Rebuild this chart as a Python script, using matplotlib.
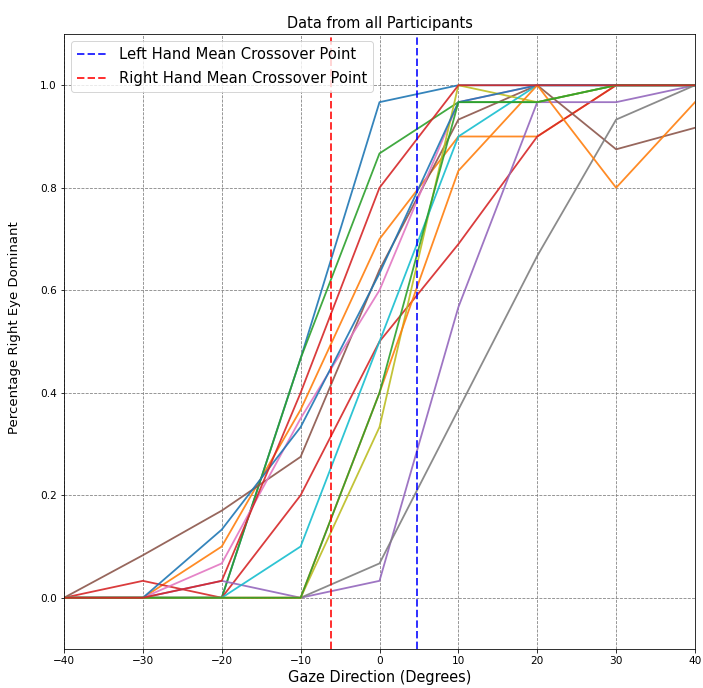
import matplotlib
matplotlib.use("Agg")
import matplotlib.pyplot as plt

gaze = [-40, -30, -20, -10, 0, 10, 20, 30, 40]

p01_blue = [0, 0, 0, 0.467, 0.967, 1.0, 1.0, 1.0, 1.0]
p02_orange = [0, 0, 0.1, 0.367, 0.7, 0.9, 0.9, 1.0, 1.0]
p03_green = [0, 0, 0, 0.467, 0.867, 0.967, 0.967, 1.0, 1.0]
p04_red = [0, 0.033, 0, 0.2, 0.5, 0.69, 0.9, 1.0, 1.0]
p05_purple = [0, 0, 0.033, 0, 0.033, 0.567, 0.967, 0.967, 1.0]
p06_brown = [0, 0.083, 0.17, 0.275, 0.64, 0.933, 1.0, 0.875, 0.917]
p07_pink = [0, 0, 0.067, 0.35, 0.6, 0.967, 1.0, 1.0, 1.0]
p08_gray = [0, 0, 0, 0, 0.067, 0.367, 0.667, 0.933, 1.0]
p09_olive = [0, 0, 0, 0, 0.333, 1.0, 0.967, 1.0, 1.0]
p10_cyan = [0, 0, 0, 0.1, 0.5, 0.9, 1.0, 1.0, 1.0]
p11_blue = [0, 0, 0.133, 0.333, 0.633, 0.967, 1.0, 1.0, 1.0]
p12_orange = [0, 0, 0, 0, 0.4, 0.833, 1.0, 0.8, 0.967]
p13_green = [0, 0, 0, 0, 0.4, 0.967, 0.967, 1.0, 1.0]
p14_red = [0, 0, 0.033, 0.4, 0.8, 1.0, 1.0, 1.0, 1.0]

participants = [p01_blue, p02_orange, p03_green, p04_red, p05_purple, p06_brown,
                p07_pink, p08_gray, p09_olive, p10_cyan, p11_blue, p12_orange,
                p13_green, p14_red]

left_cross = 4.7
right_cross = -6.1

xticks = [-40, -30, -20, -10, 0, 10, 20, 30, 40]
yticks = [0.0, 0.2, 0.4, 0.6, 0.8, 1.0]

dpi = 72
fig = plt.figure(figsize=(703 / dpi, 688 / dpi), dpi=dpi)
ax = fig.add_axes([64 / 703, 1 - 649 / 688, (695 - 64) / 703, (649 - 34) / 688])

colors = plt.rcParams['axes.prop_cycle'].by_key()['color']
for i, vals in enumerate(participants):
    ax.plot(gaze, vals, color=colors[i % 10], linewidth=1.8, alpha=0.9)

ax.axvline(left_cross, color='blue', linestyle='--', linewidth=2, alpha=0.8,
           label='Left Hand Mean Crossover Point')
ax.axvline(right_cross, color='red', linestyle='--', linewidth=2, alpha=0.8,
           label='Right Hand Mean Crossover Point')

ax.set_xlim(-40, 40)
ax.set_ylim(-0.1, 1.1)
ax.set_xticks(xticks)
ax.set_yticks(yticks)
ax.tick_params(labelsize=10.5)
ax.grid(True, color='gray', linestyle='--', linewidth=0.8)
ax.set_axisbelow(True)
ax.set_title('Data from all Participants', fontsize=14.5)
ax.set_xlabel('Gaze Direction (Degrees)', fontsize=14.5)
ax.set_ylabel('Percentage Right Eye Dominant', fontsize=13.2)
ax.yaxis.set_label_coords(-0.068, 0.522)
ax.legend(loc='upper left', fontsize=14.8, labelspacing=0.6)

fig.savefig('out.png', dpi=dpi)
